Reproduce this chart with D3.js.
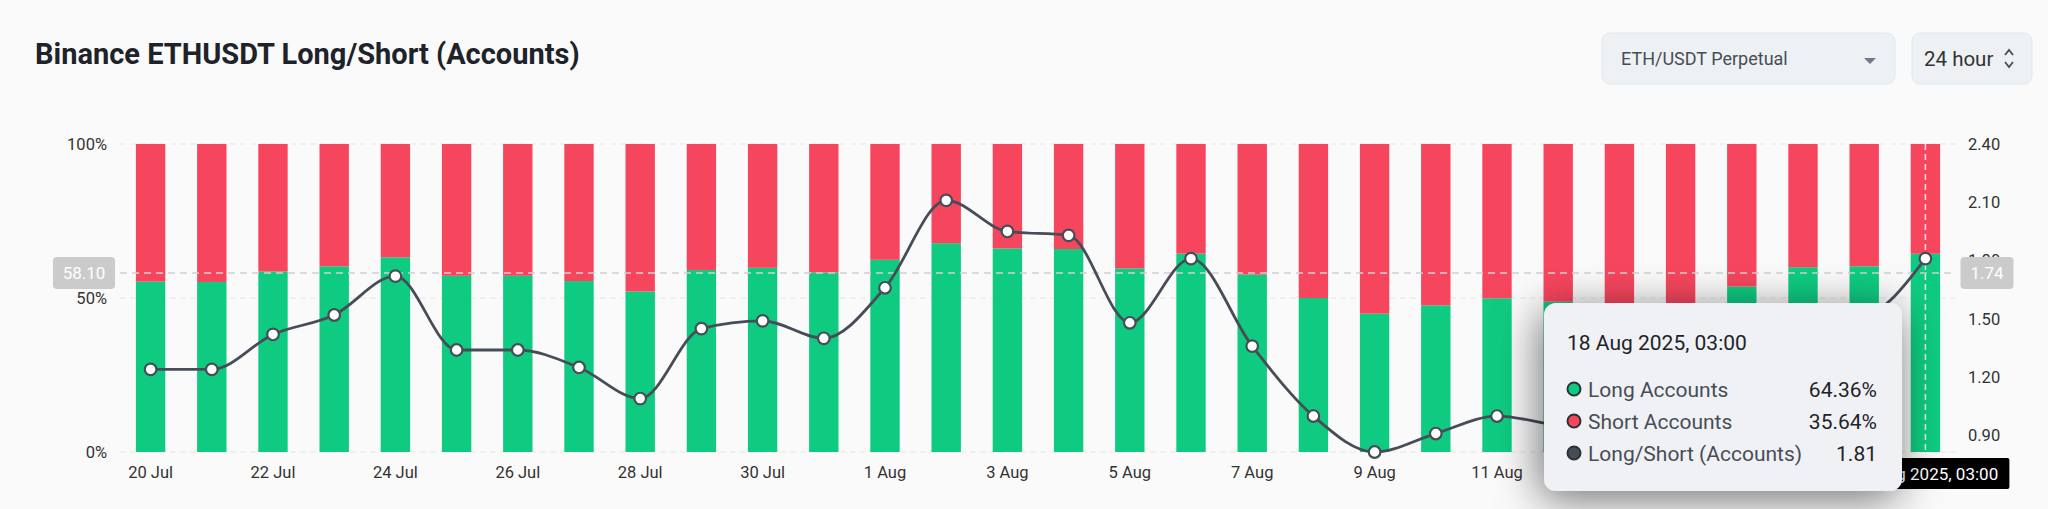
<!DOCTYPE html>
<html>
<head>
<meta charset="utf-8">
<script src="https://cdn.jsdelivr.net/npm/d3@7"></script>
<style>
  html, body { margin: 0; padding: 0; background: #fafafa; }
  svg { display: block; font-family: Roboto, "Noto Sans", sans-serif; }
</style>
</head>
<body>
<div id="chart"></div>
<script>
// days shown on the x axis
var days = ['20 Jul','21 Jul','22 Jul','23 Jul','24 Jul','25 Jul','26 Jul','27 Jul','28 Jul','29 Jul',
            '30 Jul','31 Jul','1 Aug','2 Aug','3 Aug','4 Aug','5 Aug','6 Aug','7 Aug','8 Aug',
            '9 Aug','10 Aug','11 Aug','12 Aug','13 Aug','14 Aug','15 Aug','16 Aug','17 Aug','18 Aug'];

// long accounts, % (green part)
var longPct = [55.3, 55.2, 58.6, 60.3, 63.2, 57.2, 57.2, 55.5, 52.1, 59.1,
               59.8, 58.3, 62.4, 67.8, 66.1, 65.9, 59.6, 64.4, 57.6, 50.0,
               44.9, 47.6, 49.9, 48.8, 47.4, 48.2, 53.7, 60.0, 60.3, 64.36];

// short accounts, % (red part)
var shortPct = [44.7, 44.8, 41.4, 39.7, 36.8, 42.8, 42.8, 44.5, 47.9, 40.9,
                40.2, 41.7, 37.6, 32.2, 33.9, 34.1, 40.4, 35.6, 42.4, 50.0,
                55.1, 52.4, 50.1, 51.2, 52.6, 51.8, 46.3, 40.0, 39.7, 35.64];

// long/short ratio (line, right axis)
var ratio = [1.24, 1.24, 1.42, 1.52, 1.72, 1.34, 1.34, 1.25, 1.09, 1.45,
             1.49, 1.40, 1.66, 2.11, 1.95, 1.93, 1.48, 1.81, 1.36, 1.00,
             0.815, 0.91, 1.00, 0.95, 0.90, 0.93, 1.16, 1.50, 1.52, 1.81];

var leftTicks = [0, 50, 100];
var rightTicks = [0.90, 1.20, 1.50, 1.80, 2.10, 2.40];
var crossValue = 58.10;   // horizontal crosshair (left axis)
var hoverIndex = 29;      // hovered day
var hoverTitle = '18 Aug 2025, 03:00';

var W = 2048, H = 509;
var green = '#0ecb81', red = '#f6465d', lineCol = '#474d57';

var svg = d3.select('#chart').append('svg')
    .attr('width', W).attr('height', H);

svg.append('rect').attr('width', W).attr('height', H).attr('fill', '#fafafa');

var defs = svg.append('defs');
var f = defs.append('filter').attr('id', 'shadow')
    .attr('x', '-50%').attr('y', '-50%').attr('width', '200%').attr('height', '200%');
f.append('feDropShadow').attr('dx', -4).attr('dy', 8)
    .attr('stdDeviation', 22).attr('flood-color', '#000').attr('flood-opacity', 0.55);

// scales
var x = d3.scaleBand().domain(days).range([120, 1956])
    .paddingInner(0.52).paddingOuter(0.26);
var yL = d3.scaleLinear().domain([0, 100]).range([452, 144]);
var yR = d3.scaleLinear().domain([d3.min(ratio), 2.40]).range([452, 144]);

// header
svg.append('text')
    .attr('x', 35).attr('y', 64)
    .attr('font-size', 29).attr('font-weight', 700)
    .attr('fill', '#1e2329')
    .text('Binance ETHUSDT Long/Short (Accounts)');

var sel = svg.append('g');
sel.append('rect').attr('x', 1602).attr('y', 33).attr('width', 293).attr('height', 51)
    .attr('rx', 8).attr('fill', '#eef1f4').attr('stroke', '#e2e8ec');
sel.append('text').attr('x', 1621).attr('y', 65).attr('font-size', 18)
    .attr('fill', '#474d57').text('ETH/USDT Perpetual');
sel.append('path').attr('d', 'M1864,58 L1876,58 L1870,64 Z').attr('fill', '#707a8a');

sel.append('rect').attr('x', 1912).attr('y', 33).attr('width', 120).attr('height', 51)
    .attr('rx', 8).attr('fill', '#eef1f4').attr('stroke', '#e2e8ec');
sel.append('text').attr('x', 1924).attr('y', 66).attr('font-size', 20.5)
    .attr('fill', '#333').text('24 hour');
sel.append('path').attr('d', 'M2005,55 L2009,50 L2013,55 M2005,62 L2009,67 L2013,62')
    .attr('fill', 'none').attr('stroke', '#474d57').attr('stroke-width', 1.8);

// gridlines
svg.append('g').selectAll('line')
    .data(leftTicks).enter().append('line')
    .attr('x1', 120).attr('x2', 1956)
    .attr('y1', d => yL(d)).attr('y2', d => yL(d))
    .attr('stroke', '#e6e6e6').attr('stroke-dasharray', '6,4');

// left axis
var axL = svg.append('g').attr('transform', 'translate(120,0)')
    .call(d3.axisLeft(yL).tickValues(leftTicks).tickFormat(d => d + '%').tickSize(0).tickPadding(13));
axL.select('.domain').remove();
axL.selectAll('text').attr('font-size', 16.5).attr('fill', '#333').attr('font-family', 'Roboto');

// right axis
var axR = svg.append('g').attr('transform', 'translate(1956,0)')
    .call(d3.axisRight(yR).tickValues(rightTicks).tickFormat(d3.format('.2f')).tickSize(0).tickPadding(12));
axR.select('.domain').remove();
axR.selectAll('text').attr('font-size', 16.5).attr('fill', '#333').attr('font-family', 'Roboto');

// bottom axis
var axB = svg.append('g').attr('transform', 'translate(0,452)')
    .call(d3.axisBottom(x).tickValues(days.filter((d, i) => i % 2 === 0)).tickSize(0).tickPadding(14));
axB.select('.domain').remove();
axB.selectAll('text').attr('font-size', 16.5).attr('fill', '#333').attr('font-family', 'Roboto');

// bars
var bars = svg.append('g');
bars.selectAll('.long').data(days).enter().append('rect')
    .attr('class', 'long')
    .attr('x', d => x(d)).attr('width', x.bandwidth())
    .attr('y', (d, i) => yL(longPct[i]))
    .attr('height', (d, i) => yL(0) - yL(longPct[i]))
    .attr('fill', green);
bars.selectAll('.short').data(days).enter().append('rect')
    .attr('class', 'short')
    .attr('x', d => x(d)).attr('width', x.bandwidth())
    .attr('y', (d, i) => yL(longPct[i] + shortPct[i]))
    .attr('height', (d, i) => yL(longPct[i]) - yL(longPct[i] + shortPct[i]))
    .attr('fill', red);

// crosshair lines
var cx = x(days[hoverIndex]) + x.bandwidth() / 2;
var cy = yL(crossValue);
svg.append('line').attr('x1', 120).attr('x2', 1956).attr('y1', cy).attr('y2', cy)
    .attr('stroke', '#cfcfcf').attr('stroke-width', 1.5).attr('stroke-dasharray', '7,5');
svg.append('line').attr('x1', cx).attr('x2', cx).attr('y1', 144).attr('y2', 452)
    .attr('stroke', '#e8e8e8').attr('stroke-width', 1.5).attr('stroke-dasharray', '6,4');

// ratio line
var line = d3.line()
    .x((d, i) => x(days[i]) + x.bandwidth() / 2)
    .y(d => yR(d))
    .curve(d3.curveMonotoneX);
svg.append('path').datum(ratio)
    .attr('d', line).attr('fill', 'none')
    .attr('stroke', lineCol).attr('stroke-width', 2.8);
svg.append('g').selectAll('circle').data(ratio).enter().append('circle')
    .attr('cx', (d, i) => x(days[i]) + x.bandwidth() / 2)
    .attr('cy', d => yR(d))
    .attr('r', 5.8)
    .attr('fill', '#fff').attr('stroke', lineCol).attr('stroke-width', 2.2);

// crosshair value labels
function pill(cxm, cym, w, txt, fill) {
    svg.append('rect').attr('x', cxm - w / 2).attr('y', cym - 16).attr('width', w).attr('height', 32)
        .attr('rx', 4).attr('fill', fill);
    svg.append('text').attr('x', cxm).attr('y', cym + 6).attr('text-anchor', 'middle')
        .attr('font-size', 17).attr('fill', '#fff').text(txt);
}
pill(84, cy, 62, crossValue.toFixed(2), '#cbcbcb');
pill(1987, cy, 53, yR.invert(cy).toFixed(2), '#cbcbcb');

// x pointer label
svg.append('rect').attr('x', cx - 84).attr('y', 458).attr('width', 168).attr('height', 31)
    .attr('rx', 2).attr('fill', '#000');
svg.append('text').attr('x', cx).attr('y', 480).attr('text-anchor', 'middle')
    .attr('font-size', 17).attr('fill', '#fff').text(hoverTitle);

// tooltip
var tip = svg.append('g');
tip.append('rect').attr('x', 1544).attr('y', 303).attr('width', 358).attr('height', 188)
    .attr('rx', 12).attr('fill', '#f0f1f4').attr('filter', 'url(#shadow)');
tip.append('text').attr('x', 1567).attr('y', 350).attr('font-size', 21)
    .attr('fill', '#1e2329').text(hoverTitle);

var rows = [
    { name: 'Long Accounts', color: green, value: longPct[hoverIndex].toFixed(2) + '%' },
    { name: 'Short Accounts', color: red, value: shortPct[hoverIndex].toFixed(2) + '%' },
    { name: 'Long/Short (Accounts)', color: lineCol, value: ratio[hoverIndex].toFixed(2) }
];
var rowG = tip.selectAll('.row').data(rows).enter().append('g')
    .attr('transform', (d, i) => 'translate(0,' + (389 + i * 32) + ')');
rowG.append('circle').attr('cx', 1574).attr('cy', 0).attr('r', 6.5)
    .attr('fill', d => d.color).attr('stroke', '#2b3139').attr('stroke-width', 2);
rowG.append('text').attr('x', 1588).attr('y', 8).attr('font-size', 21)
    .attr('fill', '#474d57').text(d => d.name);
rowG.append('text').attr('x', 1877).attr('y', 8).attr('font-size', 21)
    .attr('text-anchor', 'end').attr('fill', '#1e2329').text(d => d.value);
</script>
</body>
</html>
